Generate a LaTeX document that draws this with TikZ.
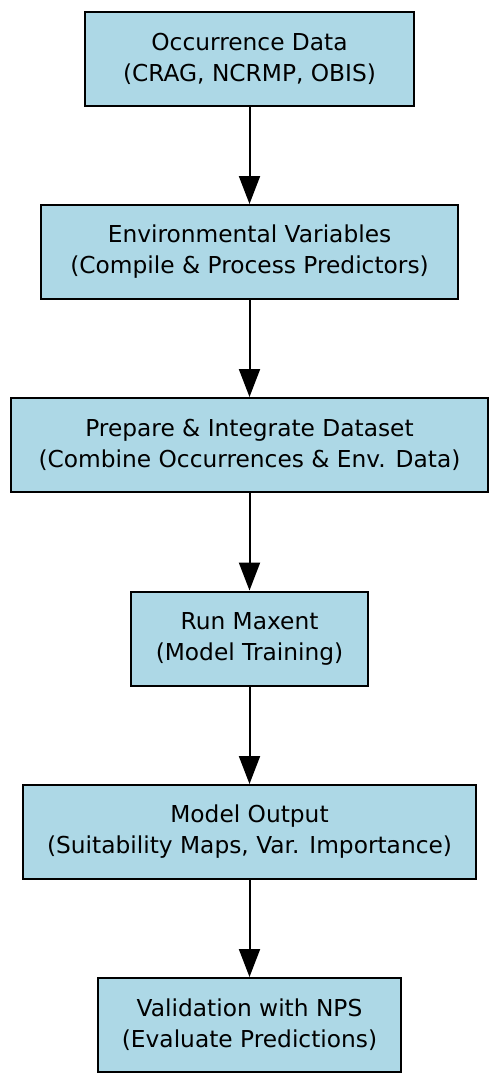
\documentclass[tikz,border=0pt]{standalone}
\usepackage{fontspec}
\setmainfont{DejaVu Sans}
\usetikzlibrary{arrows.meta}
\definecolor{boxblue}{HTML}{ADD8E6}
\tikzset{
  stepbox/.style={draw=black, fill=boxblue, line width=2pt, align=center,
    font=\fontsize{23.3}{31}\selectfont, inner sep=0pt, minimum height=94pt},
  flow/.style={line width=2pt, -{Triangle[length=28pt,width=21pt]}}
}
\begin{document}
\begin{tikzpicture}[x=1pt,y=-1pt]
\useasboundingbox (0,0) rectangle (500,1085);
\node[stepbox, minimum width=329pt] (a) at (249.5,58.5) {Occurrence Data\\(CRAG, NCRMP, OBIS)};
\node[stepbox, minimum width=417pt] (b) at (249.5,252) {Environmental Variables\\(Compile \& Process Predictors)};
\node[stepbox, minimum width=477pt] (c) at (249.5,445) {Prepare \& Integrate Dataset\\(Combine Occurrences \& Env. Data)};
\node[stepbox, minimum width=237pt] (d) at (249.5,638.5) {Run Maxent\\(Model Training)};
\node[stepbox, minimum width=453pt] (e) at (249.5,832) {Model Output\\(Suitability Maps, Var. Importance)};
\node[stepbox, minimum width=303pt] (f) at (249.5,1025) {Validation with NPS\\(Evaluate Predictions)};
\draw[flow] (a) -- (b);
\draw[flow] (b) -- (c);
\draw[flow] (c) -- (d);
\draw[flow] (d) -- (e);
\draw[flow] (e) -- (f);
\end{tikzpicture}
\end{document}
